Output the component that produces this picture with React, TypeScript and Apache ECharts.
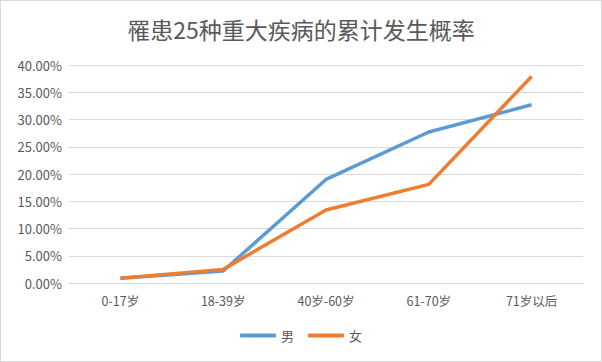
import React, { useEffect, useRef } from "react";
import * as echarts from "echarts";

const categories = ["0-17岁", "18-39岁", "40岁-60岁", "61-70岁", "71岁以后"];
const maleValues = [0.85, 2.2, 19.0, 27.7, 32.7];
const femaleValues = [0.85, 2.5, 13.4, 18.1, 37.9];
const seriesNames = ["男", "女"];
const titleText = "罹患25种重大疾病的累计发生概率";

const FONT = "'Noto Sans CJK SC', 'Noto Sans', sans-serif";

export default function App() {
  const ref = useRef<HTMLDivElement>(null);
  useEffect(() => {
    document.body.style.margin = "0";
    if (!ref.current) return;
    const chart = echarts.init(ref.current, null, { renderer: "svg" });
    chart.setOption({
      animation: false,
      backgroundColor: "#ffffff",
      title: {
        text: titleText,
        left: "center",
        top: 11,
        textStyle: { fontFamily: FONT, fontSize: 23, fontWeight: "normal", color: "#595959" },
      },
      legend: {
        bottom: 14,
        left: "center",
        itemWidth: 36,
        itemHeight: 4,
        itemGap: 14,
        icon: "roundRect",
        textStyle: { fontFamily: FONT, fontSize: 13, color: "#595959" },
        data: seriesNames,
      },
      grid: { left: 68, right: 18, top: 64, bottom: 78, containLabel: false },
      xAxis: {
        type: "category",
        data: categories,
        boundaryGap: true,
        axisLine: { lineStyle: { color: "#d9d9d9" } },
        axisTick: { show: false },
        axisLabel: { fontFamily: FONT, fontSize: 12.5, color: "#595959", margin: 11 },
      },
      yAxis: {
        type: "value",
        min: 0,
        max: 40,
        interval: 5,
        axisLine: { show: false },
        axisTick: { show: false },
        splitLine: { lineStyle: { color: "#d9d9d9" } },
        axisLabel: {
          fontFamily: FONT,
          fontSize: 13,
          color: "#595959",
          margin: 7,
          formatter: (v: number) => v.toFixed(2) + "%",
        },
      },
      series: [
        {
          name: seriesNames[0],
          type: "line",
          data: maleValues,
          symbol: "none",
          lineStyle: { width: 3.5, color: "#5B9BD5" },
          itemStyle: { color: "#5B9BD5" },
        },
        {
          name: seriesNames[1],
          type: "line",
          data: femaleValues,
          symbol: "none",
          lineStyle: { width: 3.5, color: "#ED7D31" },
          itemStyle: { color: "#ED7D31" },
        },
      ],
    });
    return () => chart.dispose();
  }, []);
  return (
    <div style={{ width: 602, height: 362, boxSizing: "border-box", border: "1px solid #d9d9d9" }}>
      <div ref={ref} style={{ width: 600, height: 360 }} />
    </div>
  );
}
